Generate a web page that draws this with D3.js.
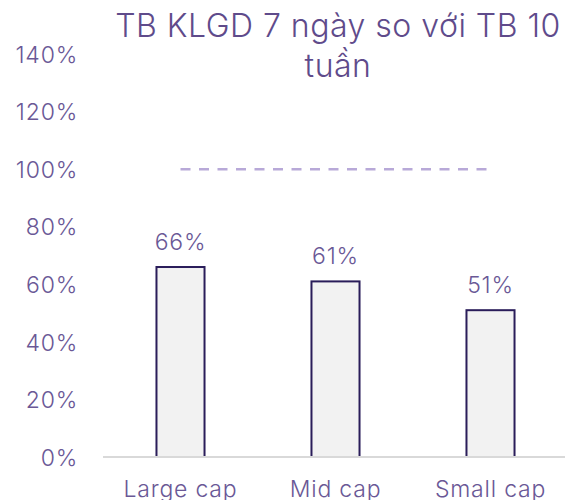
<!DOCTYPE html>
<html>
<head>
<meta charset="utf-8">
<script src="https://cdn.jsdelivr.net/npm/d3@7"></script>
<style>
  html, body { margin: 0; padding: 0; background: #fff; }
  svg { display: block; font-family: "Inter", "Open Sans", sans-serif; font-weight: 300; }
</style>
</head>
<body>
<svg id="chart" width="565" height="500"></svg>
<script>
// --- chart data ---
var categories = ['Large cap', 'Mid cap', 'Small cap'];
var values     = [0.66, 0.61, 0.51];
var yTicks     = [0, 0.2, 0.4, 0.6, 0.8, 1.0, 1.2, 1.4];
var refLevel   = 1.0;   // 100% dashed line
var titleLines = ['TB KLGD 7 ngày so với TB 10', 'tuần'];

var svg = d3.select('#chart');

var textColor  = '#6a5896';
var titleColor = '#5f4b8b';
var fontFam    = 'Inter, "Open Sans", sans-serif';

// scales
var x = d3.scaleBand()
  .domain(categories)
  .range([103, 568])
  .paddingInner(0.69)
  .paddingOuter(0.345);

var y = d3.scaleLinear()
  .domain([0, 1.4])
  .range([457, 54]);

// y tick labels (no axis line, no ticks)
var yAxis = d3.axisLeft(y)
  .tickValues(yTicks)
  .tickFormat(d3.format('.0%'))
  .tickSize(0)
  .tickPadding(0);

var yg = svg.append('g')
  .attr('transform', 'translate(78,0)')
  .call(yAxis);
yg.select('.domain').remove();
yg.selectAll('text')
  .attr('fill', textColor)
  .attr('font-size', 23)
  .attr('font-family', fontFam)
  .attr('font-weight', 300)
  .attr('letter-spacing', 0.8)
  .attr('dy', '0.36em');

// bars
svg.append('g')
  .selectAll('rect')
  .data(values)
  .enter()
  .append('rect')
  .attr('x', function(d, i) { return x(categories[i]); })
  .attr('y', function(d) { return y(d); })
  .attr('width', x.bandwidth())
  .attr('height', function(d) { return y(0) - y(d); })
  .attr('fill', '#f2f2f2')
  .attr('stroke', '#2a1d5a')
  .attr('stroke-width', 2);

// value labels
svg.append('g')
  .selectAll('text')
  .data(values)
  .enter()
  .append('text')
  .attr('x', function(d, i) { return x(categories[i]) + x.bandwidth() / 2; })
  .attr('y', function(d) { return y(d) - 17; })
  .attr('text-anchor', 'middle')
  .attr('fill', textColor)
  .attr('font-size', 23)
  .attr('letter-spacing', 0.8)
  .text(d3.format('.0%'));

// baseline
svg.append('line')
  .attr('x1', 103).attr('x2', 565)
  .attr('y1', y(0)).attr('y2', y(0))
  .attr('stroke', '#d9d9d9')
  .attr('stroke-width', 2);

// x category labels
var xAxis = d3.axisBottom(x).tickSize(0).tickPadding(0);
var xg = svg.append('g')
  .attr('transform', 'translate(0,' + y(0) + ')')
  .call(xAxis);
xg.select('.domain').remove();
xg.selectAll('text')
  .attr('fill', textColor)
  .attr('font-size', 23)
  .attr('font-family', fontFam)
  .attr('font-weight', 300)
  .attr('letter-spacing', 0.8)
  .attr('dy', null)
  .attr('y', 40);

// 100% reference line, from first bar centre to last bar centre
var first = categories[0], last = categories[categories.length - 1];
svg.append('line')
  .attr('x1', x(first) + x.bandwidth() / 2)
  .attr('x2', x(last) + x.bandwidth() / 2)
  .attr('y1', y(refLevel)).attr('y2', y(refLevel))
  .attr('stroke', '#b8a9d8')
  .attr('stroke-width', 2.5)
  .attr('stroke-dasharray', '10,8.5');

// title
svg.selectAll('.title')
  .data(titleLines)
  .enter()
  .append('text')
  .attr('class', 'title')
  .attr('x', 338)
  .attr('y', function(d, i) { return 37 + i * 40; })
  .attr('text-anchor', 'middle')
  .attr('fill', titleColor)
  .attr('font-size', 32)
  .attr('letter-spacing', 0.5)
  .text(function(d) { return d; });
</script>
</body>
</html>
